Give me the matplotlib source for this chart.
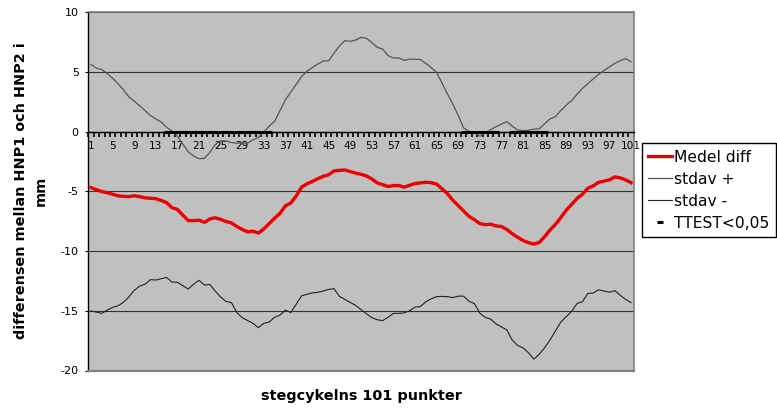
import matplotlib
matplotlib.use("Agg")
import matplotlib.pyplot as plt
import numpy as np

plt.rcParams['font.family'] = ['DejaVu Sans']
plt.rcParams['axes.unicode_minus'] = False

# stegcykelns punkter 1..101
punkter = np.arange(1, 102)

medel_diff = [
    -4.70, -4.87, -5.03, -5.12, -5.25, -5.38, -5.43, -5.45, -5.38, -5.45,
    -5.55, -5.59, -5.62, -5.77, -5.95, -6.38, -6.52, -7.00, -7.45, -7.46,
    -7.42, -7.60, -7.32, -7.22, -7.35, -7.53, -7.65, -7.95, -8.20, -8.40,
    -8.34, -8.50, -8.15, -7.70, -7.25, -6.85, -6.22, -5.98, -5.40, -4.65,
    -4.38, -4.18, -3.95, -3.75, -3.62, -3.30, -3.25, -3.22, -3.35, -3.48,
    -3.58, -3.72, -3.97, -4.30, -4.45, -4.60, -4.53, -4.52, -4.66, -4.50,
    -4.35, -4.30, -4.25, -4.28, -4.40, -4.80, -5.20, -5.75, -6.20, -6.65,
    -7.10, -7.38, -7.70, -7.80, -7.75, -7.90, -7.95, -8.20, -8.55, -8.85,
    -9.12, -9.30, -9.42, -9.28, -8.80, -8.25, -7.78, -7.20, -6.60, -6.10,
    -5.60, -5.25, -4.75, -4.55, -4.25, -4.15, -4.05, -3.80, -3.88, -4.05,
    -4.28,
]

stdav_plus = [
    5.62, 5.30, 5.18, 4.85, 4.45, 4.00, 3.50, 2.90, 2.55, 2.15,
    1.75, 1.35, 1.05, 0.80, 0.35, 0.05, -0.40, -1.05, -1.70, -2.05,
    -2.28, -2.25, -1.75, -1.10, -0.78, -0.80, -0.92, -0.98, -0.93, -0.98,
    -0.70, -0.50, -0.05, 0.45, 0.85, 1.75, 2.65, 3.30, 3.95, 4.60,
    5.05, 5.35, 5.65, 5.90, 5.92, 6.55, 7.15, 7.60, 7.55, 7.65,
    7.88, 7.80, 7.45, 7.05, 6.90, 6.35, 6.15, 6.15, 5.95, 6.05,
    6.05, 6.02, 5.70, 5.35, 4.95, 4.05, 3.15, 2.30, 1.35, 0.30,
    0.02, -0.10, -0.40, -0.10, 0.15, 0.40, 0.62, 0.82, 0.45, 0.12,
    0.08, 0.10, 0.20, 0.22, 0.65, 1.05, 1.25, 1.75, 2.20, 2.58,
    3.10, 3.60, 4.00, 4.40, 4.78, 5.10, 5.40, 5.70, 5.92, 6.10,
    5.84,
]

stdav_minus = [
    -15.02, -15.12, -15.21, -14.95, -14.72, -14.58, -14.30, -13.85, -13.30, -12.95,
    -12.78, -12.40, -12.43, -12.32, -12.22, -12.60, -12.62, -12.90, -13.18, -12.78,
    -12.45, -12.85, -12.80, -13.35, -13.85, -14.22, -14.32, -15.15, -15.58, -15.82,
    -16.05, -16.42, -16.05, -15.95, -15.55, -15.36, -14.95, -15.15, -14.45, -13.75,
    -13.62, -13.50, -13.46, -13.35, -13.22, -13.15, -13.80, -14.05, -14.30, -14.55,
    -14.90, -15.25, -15.58, -15.75, -15.83, -15.55, -15.22, -15.22, -15.18, -15.00,
    -14.70, -14.65, -14.25, -14.00, -13.82, -13.80, -13.82, -13.90, -13.78, -13.78,
    -14.20, -14.40, -15.20, -15.55, -15.70, -16.10, -16.35, -16.60, -17.45, -17.90,
    -18.10, -18.50, -19.05, -18.65, -18.10, -17.45, -16.70, -15.95, -15.50, -15.05,
    -14.40, -14.24, -13.55, -13.52, -13.25, -13.35, -13.45, -13.32, -13.70, -14.05,
    -14.32,
]

# punkter där TTEST < 0,05
signifikanta = list(range(15, 35)) + list(range(70, 77)) + list(range(79, 86))
ttest = np.full(101, np.nan)
ttest[np.array(signifikanta) - 1] = 0

fig = plt.figure(figsize=(7.77, 4.12), dpi=100)
ax = fig.add_axes([88.3 / 777, 1 - 370.5 / 412, 545.4 / 777, 358.5 / 412])
ax.set_facecolor('#C0C0C0')

ax.plot(punkter, medel_diff, color='#ee0000', lw=2.4, label='Medel diff', zorder=4)
ax.plot(punkter, stdav_plus, color='#555555', lw=0.9, label='stdav +', zorder=3)
ax.plot(punkter, stdav_minus, color='#222222', lw=0.8, label='stdav -', zorder=3)
ax.plot(punkter, ttest, ls='none', marker='_', markersize=4.4, markeredgewidth=2.2,
        color='black', label='TTEST<0,05', zorder=5)

ax.set_xlim(0.5, 101.5)
ax.set_ylim(-20, 10)

# y-axel
ax.set_yticks(np.arange(-20, 11, 5))
ax.tick_params(axis='y', direction='out', length=2.4, width=0.8, pad=4.5, labelsize=8)
ax.yaxis.grid(True, color='#333333', lw=0.8)
ax.set_axisbelow(True)

# x-axeln ligger vid 0: streck mellan kategorierna, etikett var fjärde punkt
ax.spines['bottom'].set_position(('data', 0))
ax.spines['bottom'].set_color('black')
ax.spines['bottom'].set_linewidth(1.0)
ax.set_xticks(np.arange(0.5, 102, 1), labels=[])
ax.set_xticks(punkter[::4], labels=[str(p) for p in punkter[::4]], minor=True)
ax.tick_params(axis='x', which='major', direction='out', length=3.4, width=1.2,
               color='black')
ax.tick_params(axis='x', which='minor', length=0, pad=7, labelsize=7.6)

ax.spines['left'].set_color('black')
ax.spines['left'].set_linewidth(1.0)
for side in ['top', 'right']:
    ax.spines[side].set_color('#808080')
    ax.spines[side].set_linewidth(1.2)
ax.axhline(-20, color='#808080', lw=1.6, clip_on=False, zorder=6)

fig.text(361 / 777, 1 - 396 / 412, 'stegcykelns 101 punkter',
         ha='center', va='center', fontsize=10.4, fontweight='bold')
fig.text(31 / 777, 1 - 191 / 412, 'differensen mellan HNP1 och HNP2 i\nmm',
         ha='center', va='center', rotation=90, fontsize=10.4, fontweight='bold',
         multialignment='center', linespacing=1.5)

leg = fig.legend(loc='upper left', bbox_to_anchor=(641.7 / 777, 1 - 143.3 / 412),
                 bbox_transform=fig.transFigure, borderaxespad=0, fontsize=11.2,
                 frameon=True, fancybox=False, framealpha=1, edgecolor='black',
                 handlelength=1.5, handletextpad=0.18, labelspacing=0.45,
                 borderpad=0.42)
leg.get_frame().set_linewidth(1.0)

plt.savefig('out.png', dpi=100)
